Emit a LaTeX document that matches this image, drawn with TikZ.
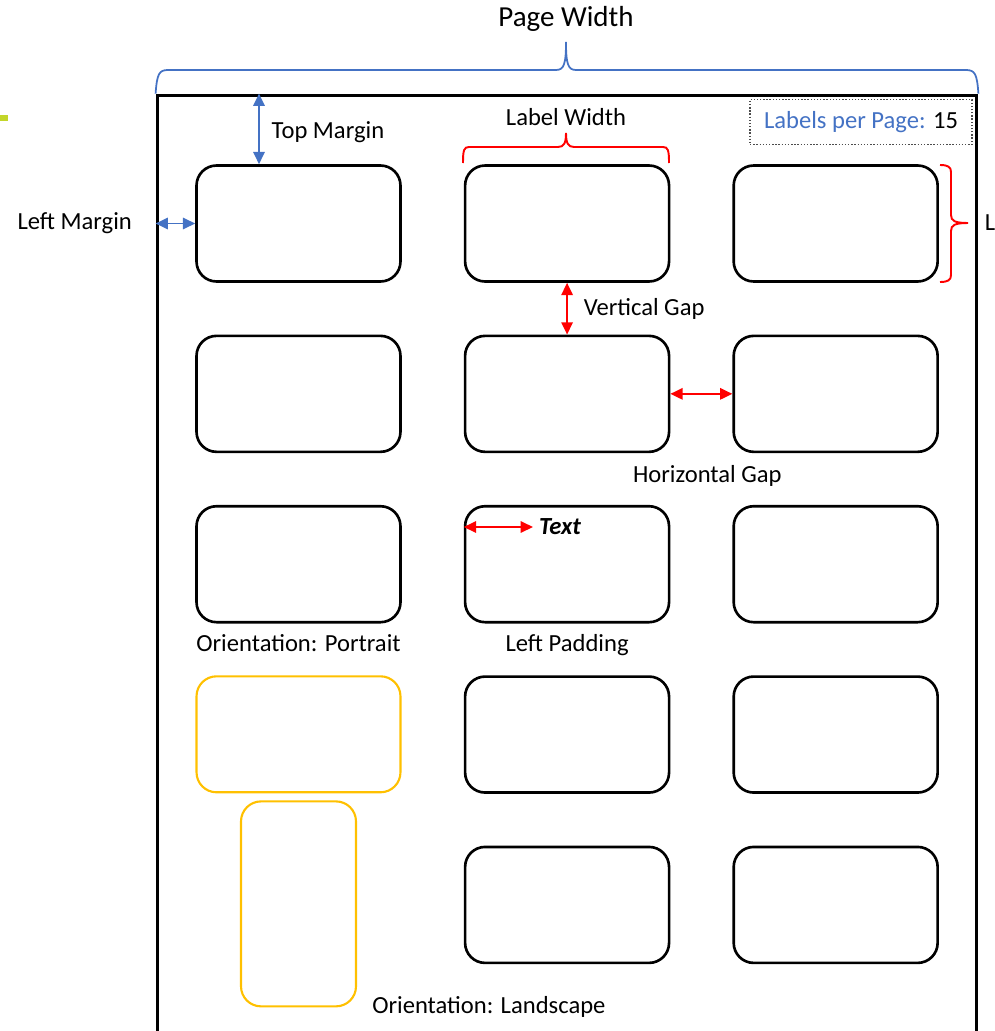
\documentclass[tikz,border=0pt]{standalone}
\usepackage{fontspec}
\setmainfont{Carlito}
\usepackage{tikz}
\usetikzlibrary{arrows.meta,positioning,calc}

\definecolor{pageblue}{HTML}{4472C4}
\definecolor{gapred}{HTML}{FF0000}
\definecolor{orientyellow}{HTML}{FFC000}
\definecolor{markgreen}{HTML}{C3D62A}

\tikzset{
    lbox/.style={draw, line width=1.5pt, rounded corners=0.4cm, minimum width=4.08cm, minimum height=2.32cm},
    orient/.style={draw=orientyellow, line width=1.2pt},
    sheet/.style={draw, line width=1.7pt, minimum width=16.4cm, minimum height=19.3cm},
    countbox/.style={draw=black!70, densely dotted, line width=0.8pt, minimum width=4.44cm, minimum height=0.9cm},
    bluearrow/.style={<->, draw=pageblue, line width=1pt},
    redarrow/.style={<->, draw=gapred, line width=1pt},
    bluebrace/.style={draw=pageblue, line width=1pt},
    redbrace/.style={draw=gapred, line width=1.1pt}
}

\begin{document}
\begin{tikzpicture}[x=0.02cm, y=-0.02cm, >={Triangle[length=7pt, width=6.5pt]}, node distance=1.035cm and 1.24cm,
    font=\fontsize{14}{16}\selectfont]
    \useasboundingbox (0,0) rectangle (994,1031);
    \clip (0,0) rectangle (994,1031);

    \fill[markgreen] (0,115) rectangle (8,121);

    \node[sheet]            (page)     at (567,577.5)              {};
    \node[countbox]         (perpage)  at (861,122)                {\textcolor{pageblue}{Labels per Page:} 15};

    % label grid
    \node[lbox]             (lbl11)    at (298.5,223.5)            {};
    \node[lbox]             (lbl12)    [right=of lbl11]            {};
    \node[lbox]             (lbl13)    [right=of lbl12]            {};
    \node[lbox]             (lbl21)    [below=of lbl11]            {};
    \node[lbox]             (lbl22)    [below=of lbl12]            {};
    \node[lbox]             (lbl23)    [below=of lbl13]            {};
    \node[lbox]             (lbl31)    [below=of lbl21]            {};
    \node[lbox]             (lbl32)    [below=of lbl22]            {};
    \node[lbox]             (lbl33)    [below=of lbl23]            {};
    \node[lbox, orient]     (lbl41)    [below=of lbl31]            {};
    \node[lbox]             (lbl42)    [below=of lbl32]            {};
    \node[lbox]             (lbl43)    [below=of lbl33]            {};
    \node[lbox, orient, minimum width=2.3cm, minimum height=4.1cm]
                            (lbl51)    [below=0.14cm of lbl41]     {};
    \node[lbox]             (lbl52)    [below=of lbl42]            {};
    \node[lbox]             (lbl53)    [below=of lbl43]            {};

    \node[font=\fontsize{14}{16}\selectfont\bfseries\itshape] (padtxt) at (560,527) {Text};
    \node                   (padlbl)   [below=0.1cm of lbl32]      {Left Padding};
    \node                   (porlbl)   [below=0.1cm of lbl31]      {Orientation: Portrait};
    \node                   (lndlbl)   [right=0.18cm of lbl51.south east] {Orientation: Landscape};

    % braces
    \draw[bluebrace] (page.north west) .. controls (157,74) and (159,70) .. (168,70) -- (556,70)
        .. controls (564,70) and (566,64) .. (566,42) node[above=0.08cm, font=\fontsize{16.5}{18}\selectfont] {Page Width}
        .. controls (566,64) and (568,70) .. (576,70) -- (966,70) .. controls (975,70) and (977,74) .. (page.north east);
    \draw[redbrace] (463,163) .. controls (463,150) and (464,147) .. (469,147) -- (558,147)
        .. controls (564,147) and (566,143) .. (566,133) node[above] {Label Width}
        .. controls (566,143) and (568,147) .. (574,147) -- (663,147) .. controls (668,147) and (669,150) .. (669,163);
    \draw[redbrace] (940,165) .. controls (948,165) and (951,167) .. (951,172) -- (951,215)
        .. controls (951,221) and (955,223) .. (968,223) node[right=0.2cm] {L}
        .. controls (955,223) and (951,225) .. (951,231) -- (951,275) .. controls (951,280) and (948,282) .. (940,282);

    % dimension arrows
    \coordinate (topm) at (259,0);
    \draw[bluearrow] (topm |- page.north) -- node[right=0.12cm, yshift=-0.06cm] {Top Margin} (topm |- lbl11.north);
    \draw[bluearrow] (page.west |- lbl11.west) node[left=0.34cm] {Left Margin} -- (lbl11.west);
    \draw[redarrow]  (lbl12.south) -- node[right=0.2cm] {Vertical Gap} (lbl22.north);
    \draw[redarrow]  (lbl22.east) -- node[below=1.3cm, xshift=0.12cm] {Horizontal Gap} (lbl23.west);
    \draw[redarrow]  (lbl32.west |- padtxt) -- (padtxt.west);
\end{tikzpicture}
\end{document}
